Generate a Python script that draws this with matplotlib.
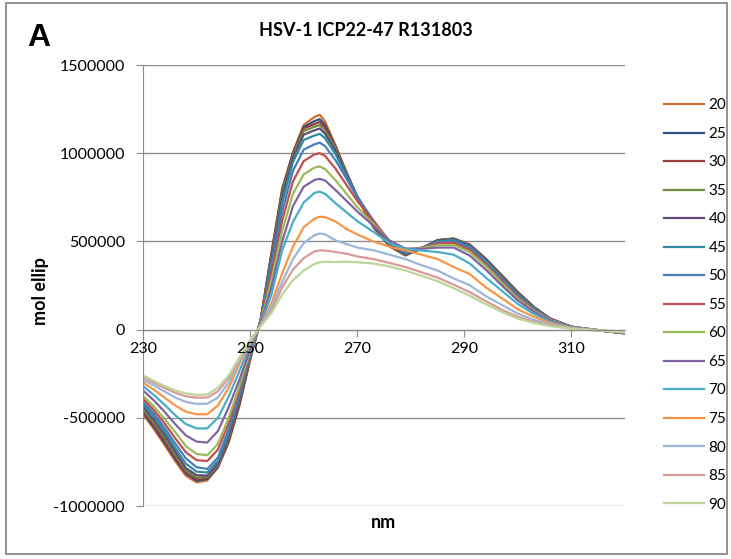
import matplotlib
matplotlib.use('Agg')
import matplotlib.pyplot as plt
from matplotlib.patches import Rectangle
import numpy as np

# wavelength (nm) and molar ellipticity readings (x1000) per temperature
wl = [230, 232, 234, 236, 238, 240, 242, 244, 246, 248, 250, 252, 254, 256, 258, 260,
      262, 263, 264, 266, 268, 270, 273, 276, 279, 282, 285, 288, 291, 294, 297, 300, 303,
      306, 310, 315, 320]

t20 = [-480, -562, -652, -745, -828, -866, -855, -782, -640, -432, -172, 60, 440, 800, 1005, 1160,
       1205, 1218, 1180, 1040, 890, 748, 580, 472, 420, 460, 508, 516, 482, 402, 308, 213, 128,
       63, 16, -4, -22]
t25 = [-470, -550, -640, -732, -815, -856, -848, -778, -632, -425, -168, 60, 432, 795, 1000, 1148,
       1182, 1193, 1160, 1035, 888, 750, 585, 475, 422, 460, 507, 516, 482, 402, 307, 212, 128,
       63, 16, -4, -22]
t30 = [-460, -538, -628, -722, -808, -846, -842, -772, -622, -415, -165, 60, 425, 785, 998, 1140,
       1165, 1177, 1145, 1030, 892, 752, 590, 478, 424, 460, 506, 515, 480, 400, 305, 210, 126,
       63, 16, -4, -20]
t35 = [-450, -525, -612, -708, -798, -838, -835, -768, -610, -400, -160, 58, 415, 770, 990, 1125,
       1150, 1160, 1130, 1025, 888, 755, 598, 482, 425, 460, 505, 514, 478, 398, 302, 206, 124,
       62, 16, -4, -20]
t40 = [-435, -510, -595, -690, -785, -825, -828, -760, -600, -390, -155, 58, 400, 750, 975, 1105,
       1130, 1140, 1110, 1012, 880, 755, 605, 488, 428, 462, 505, 512, 475, 395, 298, 202, 122,
       62, 16, -4, -20]
t45 = [-420, -490, -575, -670, -760, -805, -810, -745, -585, -375, -150, 55, 380, 720, 950, 1075,
       1100, 1110, 1085, 992, 870, 755, 615, 495, 432, 462, 500, 508, 470, 390, 292, 198, 120,
       60, 16, -4, -20]
t50 = [-405, -475, -555, -645, -730, -780, -790, -725, -565, -360, -140, 52, 350, 670, 900, 1020,
       1050, 1060, 1040, 958, 855, 750, 620, 500, 440, 465, 495, 500, 462, 380, 285, 190, 115,
       60, 16, -4, -20]
t55 = [-390, -455, -530, -615, -695, -740, -745, -680, -530, -340, -130, 50, 320, 620, 840, 955,
       993, 1000, 985, 910, 820, 730, 615, 505, 450, 465, 488, 492, 452, 370, 275, 182, 110,
       58, 16, -3, -20]
t60 = [-375, -435, -505, -580, -660, -705, -712, -648, -500, -320, -120, 45, 280, 560, 770, 880,
       918, 925, 910, 845, 770, 695, 600, 505, 455, 462, 478, 480, 440, 360, 265, 175, 105,
       55, 15, -3, -18]
t65 = [-345, -400, -465, -535, -600, -635, -640, -575, -440, -285, -110, 40, 240, 500, 700, 810,
       848, 855, 845, 790, 730, 670, 590, 505, 460, 458, 465, 465, 420, 340, 250, 165, 100,
       52, 14, -3, -18]
t70 = [-320, -370, -425, -485, -535, -560, -560, -500, -380, -235, -90, 30, 200, 450, 610, 720,
       775, 782, 770, 715, 665, 615, 555, 490, 458, 448, 440, 425, 375, 295, 220, 145, 88,
       45, 12, -3, -15]
t75 = [-300, -340, -385, -430, -465, -480, -480, -430, -330, -195, -75, 25, 150, 320, 470, 580,
       628, 640, 638, 612, 570, 540, 500, 470, 450, 425, 400, 355, 315, 240, 178, 115, 72,
       38, 10, -3, -15]
t80 = [-285, -315, -350, -385, -410, -421, -420, -385, -300, -180, -70, 25, 130, 270, 400, 490,
       535, 545, 540, 505, 485, 465, 450, 425, 400, 365, 335, 290, 252, 190, 140, 90, 55,
       30, 8, -5, -15]
t85 = [-270, -300, -330, -358, -378, -386, -385, -350, -275, -170, -65, 25, 110, 240, 340, 405,
       443, 449, 448, 440, 430, 415, 400, 378, 355, 325, 295, 255, 212, 162, 113, 72, 44,
       24, 6, -5, -15]
t90 = [-260, -290, -320, -345, -362, -370, -368, -330, -260, -160, -60, 20, 95, 200, 280, 335,
       372, 382, 385, 383, 385, 382, 375, 358, 335, 305, 275, 235, 192, 145, 100, 62, 38,
       20, 5, -5, -15]

temps = ['20', '25', '30', '35', '40', '45', '50', '55', '60', '65', '70', '75', '80', '85', '90']
series = [t20, t25, t30, t35, t40, t45, t50, t55, t60, t65, t70, t75, t80, t85, t90]
colors = ['#D36E2A', '#2E5088', '#9B3D3B', '#6F8A3C', '#5E4B7E', '#2F8AA0', '#4A7EBB',
          '#C0504D', '#9BBB59', '#8064A2', '#4BACC6', '#F79646', '#9DB5D9', '#D99A98', '#BCD59A']

plt.rcParams['font.family'] = ['Lato', 'DejaVu Sans']

fig = plt.figure(figsize=(7.31, 5.59), dpi=100)
ax = fig.add_axes([0.1956, 0.0948, 0.855 - 0.1956, 0.8837 - 0.0948])

for lab, vals, c in zip(temps, series, colors):
    ax.plot(wl, np.array(vals) * 1000, color=c, lw=1.6, label=lab)

grey = '#8C8C8C'
ax.set_xlim(230, 320)
ax.set_ylim(-1000000, 1500000)
ax.set_yticks(np.arange(-1000000, 1500001, 500000))
ax.set_xticks([230, 250, 270, 290, 310])
ax.yaxis.set_major_formatter(matplotlib.ticker.FuncFormatter(lambda v, p: '%d' % v))
ax.grid(axis='y', color=grey, lw=1)
ax.set_axisbelow(True)
ax.xaxis.set_zorder(3)  # x labels sit on top of the curves, as in Excel
for s in ['top', 'right']:
    ax.spines[s].set_visible(False)
ax.spines['bottom'].set_position(('data', 0))
ax.spines['bottom'].set_color(grey)
ax.spines['left'].set_color(grey)
ax.tick_params(axis='both', colors=grey, labelcolor='black', labelsize=11.5, length=5)
ax.tick_params(axis='x', pad=4)
ax.tick_params(axis='y', pad=8)

fig.text(0.5, 0.945, 'HSV-1 ICP22-47 R131803', ha='center', va='center',
         fontsize=13, fontweight='bold')
fig.text(0.037, 0.932, 'A', ha='left', va='center', fontsize=23, fontweight='bold',
         family='Liberation Sans')
fig.text(0.524, 0.066, 'nm', ha='center', va='center', fontsize=13, fontweight='bold')
fig.text(0.055, 0.48, 'mol ellip', ha='center', va='center', fontsize=13,
         fontweight='bold', rotation=90)

ax.legend(loc='upper left', bbox_to_anchor=(0.9, 0.835), bbox_transform=fig.transFigure,
          frameon=False, fontsize=11, handlelength=2.6, labelspacing=0.95,
          handletextpad=0.3, borderaxespad=0)

fig.patches.append(Rectangle((0.008, 0.009), 0.986, 0.986, transform=fig.transFigure,
                             fill=False, edgecolor='#7F7F7F', lw=1.2))

plt.savefig('out.png', dpi=100)
plt.close(fig)
